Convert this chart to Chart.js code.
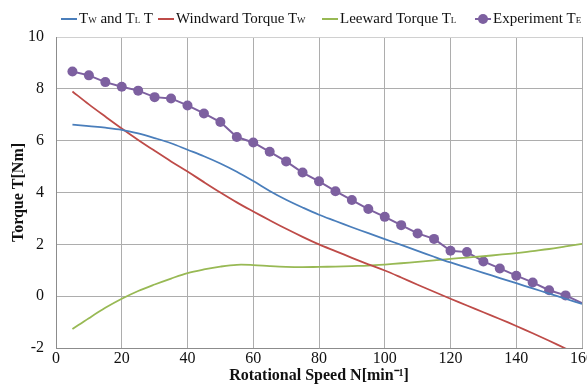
<!DOCTYPE html>
<html>
<head>
<meta charset="utf-8">
<script src="https://cdn.jsdelivr.net/npm/chart.js@4.4.1/dist/chart.umd.min.js"></script>
<style>
  html, body { margin: 0; padding: 0; background: #fff; }
  #wrap { position: relative; width: 587px; height: 385px; overflow: hidden; }
  #c { position: absolute; left: 0; top: 0; }
  .item { position: absolute; top: 10px; display: flex; align-items: center;
          font-family: 'Liberation Serif', 'Times New Roman', serif; font-size: 15px; color: #111; white-space: nowrap; }
  .swatch { position: relative; width: 16px; height: 2px; margin-right: 2px; }
  .dot { position: absolute; left: 3px; top: -4px; width: 10px; height: 10px; border-radius: 50%; }
  .sb { font-size: 9px; }
</style>
</head>
<body>
<div id="wrap">
  <canvas id="c" width="587" height="385"></canvas>
  <div id="legend"></div>
</div>
<script>
// ---- data ----
const speeds = [5,10,15,20,25,30,35,40,45,50,55,60,65,70,75,80,85,90,95,100,105,110,115,120,125,130,135,140,145,150,155,160];
const totalTorque = [6.62,6.56,6.50,6.42,6.28,6.10,5.90,5.65,5.40,5.12,4.80,4.44,4.06,3.72,3.42,3.14,2.90,2.66,2.43,2.20,1.98,1.75,1.52,1.30,1.10,0.90,0.70,0.50,0.30,0.10,-0.10,-0.30];
const windwardTorque = [7.90,7.40,6.93,6.47,6.03,5.61,5.20,4.81,4.40,4.00,3.62,3.27,2.93,2.60,2.29,2.00,1.74,1.48,1.23,0.99,0.72,0.44,0.17,-0.10,-0.36,-0.62,-0.88,-1.15,-1.43,-1.72,-2.02,-2.32];
const leewardTorque = [-1.27,-0.85,-0.45,-0.10,0.20,0.45,0.68,0.89,1.03,1.14,1.21,1.20,1.16,1.13,1.12,1.13,1.14,1.16,1.18,1.22,1.27,1.32,1.38,1.44,1.49,1.54,1.60,1.66,1.74,1.82,1.92,2.02];
const experimentTorque = [8.67,8.52,8.26,8.08,7.93,7.68,7.63,7.36,7.05,6.72,6.14,5.93,5.57,5.20,4.77,4.43,4.05,3.71,3.36,3.06,2.74,2.42,2.21,1.75,1.70,1.34,1.07,0.79,0.53,0.23,0.03,-0.27];
const xTicks = [0,20,40,60,80,100,120,140,160];
const yTicks = [-2,0,2,4,6,8,10];

const legendItems = [
  { html: 'T<span class="sb">W</span> and T<span class="sb">L</span> T', color: '#4A7EBB', marker: false },
  { html: 'Windward Torque T<span class="sb">W</span>', color: '#BE4B48', marker: false },
  { html: 'Leeward Torque T<span class="sb">L</span>', color: '#98B954', marker: false },
  { html: 'Experiment T<span class="sb">E</span>', color: '#7D60A0', marker: true }
];
const legendLeft = [61, 158, 322, 475];

const pts = arr => speeds.map((s, i) => ({ x: s, y: arr[i] }));
const FONT = "'Liberation Serif', 'Times New Roman', serif";

const leg = document.getElementById('legend');
legendItems.forEach((it, i) => {
  const d = document.createElement('div'); d.className = 'item'; d.style.left = legendLeft[i] + 'px';
  const sw = document.createElement('div'); sw.className = 'swatch'; sw.style.background = it.color;
  if (it.marker) { const dot = document.createElement('div'); dot.className = 'dot'; dot.style.background = it.color; sw.appendChild(dot); }
  const t = document.createElement('span'); t.innerHTML = it.html;
  d.appendChild(sw); d.appendChild(t); leg.appendChild(d);
});

new Chart(document.getElementById('c'), {
  type: 'line',
  data: {
    datasets: [
      { label: 'Tw and TL T', data: pts(totalTorque), borderColor: '#4A7EBB', borderWidth: 1.8, pointRadius: 0, tension: 0.35 },
      { label: 'Windward Torque Tw', data: pts(windwardTorque), borderColor: '#BE4B48', borderWidth: 1.8, pointRadius: 0, tension: 0.35 },
      { label: 'Leeward Torque TL', data: pts(leewardTorque), borderColor: '#98B954', borderWidth: 1.8, pointRadius: 0, tension: 0.35 },
      { label: 'Experiment TE', data: pts(experimentTorque), borderColor: '#7D60A0', backgroundColor: '#7D60A0', borderWidth: 2,
        pointRadius: c => (c.parsed && c.parsed.x >= 160) ? 0 : 5, pointBorderWidth: 0, tension: 0 }
    ]
  },
  options: {
    responsive: false,
    animation: false,
    layout: { padding: { top: 37, right: 0, bottom: 0, left: 0 } },
    plugins: { legend: { display: false }, tooltip: { enabled: false } },
    scales: {
      x: {
        type: 'linear', min: 0, max: 160,
        afterBuildTicks: s => { s.ticks = xTicks.map(v => ({ value: v })); },
        afterFit: s => { s.height = 37; s.paddingLeft = 0; s.paddingRight = 0; },
        grid: { color: '#ADADAD', lineWidth: 1, drawTicks: false },
        border: { color: '#8C8C8C', width: 1 },
        ticks: { padding: 1, color: '#111', font: { family: FONT, size: 16 }, maxRotation: 0 },
        title: { display: true, text: 'Rotational Speed N[min\u207B\u00B9]', color: '#111',
                 font: { family: FONT, size: 16, weight: 'bold' }, padding: { top: 0, bottom: 0 } }
      },
      y: {
        min: -2, max: 10,
        afterBuildTicks: s => { s.ticks = yTicks.map(v => ({ value: v })); },
        afterFit: s => { s.width = 56; s.paddingTop = 0; s.paddingBottom = 0; },
        grid: { color: c => c.tick && c.tick.value === 10 ? '#D0D0D0' : '#ADADAD', lineWidth: 1, drawTicks: false },
        border: { color: '#8C8C8C', width: 1 },
        ticks: { padding: 12, color: '#111', font: { family: FONT, size: 16 } },
        title: { display: true, text: 'Torque T[Nm]', color: '#111',
                 font: { family: FONT, size: 16, weight: 'bold' }, padding: { top: 9, bottom: 0 } }
      }
    }
  }
});
</script>
</body>
</html>
